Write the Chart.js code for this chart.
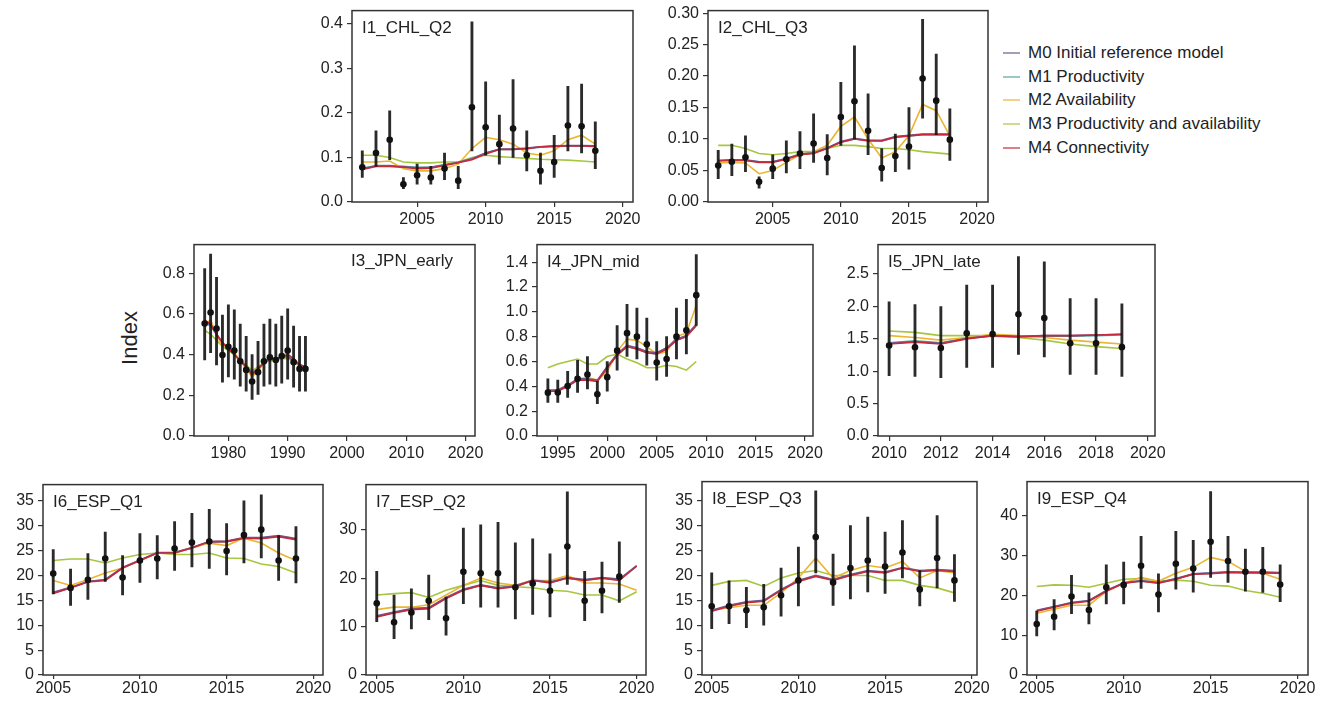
<!DOCTYPE html>
<html lang="en">
<head>
<meta charset="UTF-8" />
<title>Index fits by model</title>
<style>
  html, body { margin: 0; padding: 0; background: #fff; }
  body { width: 1332px; height: 704px; position: relative; overflow: hidden;
         font-family: "Liberation Sans", Arial, sans-serif; color: #222; }
  canvas { position: absolute; }
  #legend { position: absolute; left: 1003px; top: 41px; }
  .item { height: 23.8px; display: flex; align-items: center; font-size: 17px; white-space: nowrap; }
  .swatch { display: inline-block; width: 17px; height: 2px; margin-right: 8px; }
  #ylab { position: absolute; left: 130px; top: 338px; font-size: 22px;
          transform: translate(-50%, -50%) rotate(-90deg); }
</style>
</head>
<body>
<div id="ylab">Index</div>
<div id="legend"></div>
<script src="https://cdn.jsdelivr.net/npm/chart.js"></script>
<script>
  // model names and colours
  const modelNames = ['M0 Initial reference model', 'M1 Productivity', 'M2 Availability',
    'M3 Productivity and availability', 'M4 Connectivity'];
  const modelColors = ['#6b5a8e', '#4fa7a0', '#eab532', '#a6c640', '#c8283c'];

  // I1_CHL_Q2
  const i1Years = [2001, 2002, 2003, 2004, 2005, 2006, 2007, 2008, 2009, 2010, 2011, 2012, 2013, 2014, 2015, 2016, 2017, 2018];
  const i1Obs = [0.078, 0.11, 0.14, 0.04, 0.06, 0.055, 0.075, 0.048, 0.213, 0.168, 0.13, 0.165, 0.105, 0.07, 0.09, 0.172, 0.17, 0.115];
  const i1Lo = [0.055, 0.08, 0.095, 0.03, 0.04, 0.04, 0.05, 0.03, 0.115, 0.105, 0.085, 0.1, 0.07, 0.04, 0.055, 0.115, 0.11, 0.075];
  const i1Hi = [0.115, 0.16, 0.205, 0.055, 0.085, 0.08, 0.11, 0.08, 0.405, 0.27, 0.195, 0.275, 0.16, 0.11, 0.15, 0.26, 0.265, 0.18];
  const i1M0 = [0.075, 0.081, 0.081, 0.079, 0.077, 0.078, 0.083, 0.089, 0.097, 0.11, 0.119, 0.119, 0.121, 0.124, 0.126, 0.127, 0.127, 0.126];
  const i1M1 = [0.076, 0.082, 0.082, 0.08, 0.078, 0.078, 0.084, 0.089, 0.098, 0.11, 0.118, 0.118, 0.12, 0.123, 0.125, 0.126, 0.126, 0.125];
  const i1M2 = [0.09, 0.09, 0.092, 0.075, 0.07, 0.07, 0.075, 0.085, 0.12, 0.145, 0.14, 0.13, 0.11, 0.105, 0.115, 0.14, 0.15, 0.13];
  const i1M3 = [0.105, 0.105, 0.1, 0.09, 0.088, 0.088, 0.09, 0.09, 0.1, 0.105, 0.102, 0.1, 0.098, 0.096, 0.095, 0.094, 0.092, 0.09];
  const i1M4 = [0.073, 0.08, 0.08, 0.078, 0.075, 0.076, 0.082, 0.088, 0.095, 0.108, 0.118, 0.118, 0.12, 0.124, 0.125, 0.126, 0.126, 0.125];
  const i1XTicks = [2005, 2010, 2015, 2020];
  const i1YTicks = [0, 0.1, 0.2, 0.3, 0.4];

  // I2_CHL_Q3
  const i2Years = i1Years;
  const i2Obs = [0.058, 0.064, 0.071, 0.032, 0.053, 0.068, 0.077, 0.093, 0.07, 0.135, 0.16, 0.113, 0.054, 0.073, 0.088, 0.196, 0.161, 0.099];
  const i2Lo = [0.037, 0.042, 0.048, 0.022, 0.037, 0.046, 0.053, 0.063, 0.043, 0.09, 0.1, 0.075, 0.033, 0.048, 0.052, 0.133, 0.107, 0.066];
  const i2Hi = [0.082, 0.092, 0.105, 0.04, 0.075, 0.097, 0.112, 0.14, 0.107, 0.19, 0.248, 0.172, 0.085, 0.108, 0.15, 0.29, 0.235, 0.148];
  const i2M0 = [0.066, 0.067, 0.067, 0.064, 0.064, 0.069, 0.076, 0.078, 0.086, 0.096, 0.101, 0.098, 0.098, 0.104, 0.106, 0.108, 0.108, 0.108];
  const i2M1 = [0.066, 0.067, 0.066, 0.064, 0.064, 0.069, 0.075, 0.078, 0.086, 0.095, 0.1, 0.098, 0.097, 0.103, 0.105, 0.107, 0.107, 0.107];
  const i2M2 = [0.062, 0.063, 0.062, 0.045, 0.05, 0.063, 0.075, 0.08, 0.09, 0.12, 0.135, 0.1, 0.07, 0.08, 0.105, 0.155, 0.145, 0.105];
  const i2M3 = [0.09, 0.09, 0.085, 0.077, 0.075, 0.077, 0.08, 0.08, 0.085, 0.09, 0.09, 0.088, 0.085, 0.085, 0.083, 0.08, 0.078, 0.076];
  const i2M4 = [0.065, 0.066, 0.066, 0.063, 0.063, 0.068, 0.075, 0.077, 0.085, 0.095, 0.1, 0.097, 0.097, 0.103, 0.105, 0.107, 0.107, 0.107];
  const i2XTicks = [2005, 2010, 2015, 2020];
  const i2YTicks = [0, 0.05, 0.1, 0.15, 0.2, 0.25, 0.3];

  // I3_JPN_early
  const i3Years = [1976, 1977, 1978, 1979, 1980, 1981, 1982, 1983, 1984, 1985, 1986, 1987, 1988, 1989, 1990, 1991, 1992, 1993];
  const i3Obs = [0.553, 0.607, 0.528, 0.398, 0.439, 0.42, 0.367, 0.325, 0.268, 0.314, 0.367, 0.387, 0.374, 0.393, 0.42, 0.363, 0.33, 0.33];
  const i3Lo = [0.374, 0.41, 0.35, 0.265, 0.29, 0.28, 0.245, 0.22, 0.18, 0.205, 0.245, 0.255, 0.245, 0.26, 0.28, 0.24, 0.22, 0.22];
  const i3Hi = [0.823, 0.895, 0.78, 0.595, 0.645, 0.62, 0.55, 0.49, 0.4, 0.465, 0.55, 0.575, 0.55, 0.59, 0.625, 0.54, 0.49, 0.49];
  const i3M0 = [0.56, 0.55, 0.5, 0.46, 0.43, 0.4, 0.37, 0.34, 0.31, 0.33, 0.36, 0.38, 0.38, 0.39, 0.39, 0.37, 0.35, 0.34];
  const i3M1 = [0.56, 0.54, 0.5, 0.45, 0.43, 0.4, 0.37, 0.34, 0.31, 0.33, 0.36, 0.38, 0.38, 0.39, 0.39, 0.37, 0.35, 0.34];
  const i3M2 = [0.55, 0.57, 0.5, 0.44, 0.43, 0.41, 0.37, 0.33, 0.29, 0.32, 0.36, 0.38, 0.38, 0.39, 0.41, 0.37, 0.34, 0.33];
  const i3M3 = [0.52, 0.5, 0.47, 0.44, 0.42, 0.4, 0.37, 0.35, 0.32, 0.34, 0.36, 0.37, 0.37, 0.38, 0.38, 0.37, 0.35, 0.34];
  const i3M4 = [0.57, 0.55, 0.5, 0.46, 0.43, 0.4, 0.37, 0.34, 0.3, 0.33, 0.36, 0.38, 0.38, 0.39, 0.4, 0.38, 0.35, 0.34];
  const i3XTicks = [1980, 1990, 2000, 2010, 2020];
  const i3YTicks = [0, 0.2, 0.4, 0.6, 0.8];

  // I4_JPN_mid
  const i4Years = [1994, 1995, 1996, 1997, 1998, 1999, 2000, 2001, 2002, 2003, 2004, 2005, 2006, 2007, 2008, 2009];
  const i4Obs = [0.349, 0.35, 0.402, 0.46, 0.495, 0.336, 0.474, 0.687, 0.828, 0.8, 0.738, 0.591, 0.62, 0.8, 0.852, 1.134];
  const i4Lo = [0.27, 0.27, 0.31, 0.35, 0.38, 0.26, 0.36, 0.53, 0.64, 0.62, 0.57, 0.45, 0.48, 0.62, 0.66, 0.89];
  const i4Hi = [0.46, 0.45, 0.52, 0.61, 0.64, 0.44, 0.6, 0.89, 1.06, 1.03, 0.95, 0.76, 0.8, 1.03, 1.1, 1.46];
  const i4M0 = [0.37, 0.37, 0.41, 0.46, 0.46, 0.45, 0.56, 0.66, 0.73, 0.71, 0.68, 0.67, 0.71, 0.78, 0.81, 0.9];
  const i4M1 = [0.36, 0.37, 0.4, 0.45, 0.46, 0.44, 0.55, 0.65, 0.72, 0.7, 0.67, 0.66, 0.7, 0.77, 0.8, 0.89];
  const i4M2 = [0.36, 0.36, 0.4, 0.46, 0.47, 0.45, 0.52, 0.68, 0.78, 0.77, 0.72, 0.66, 0.68, 0.8, 0.83, 1.05];
  const i4M3 = [0.55, 0.58, 0.6, 0.62, 0.58, 0.58, 0.64, 0.66, 0.62, 0.59, 0.55, 0.55, 0.57, 0.56, 0.53, 0.6];
  const i4M4 = [0.36, 0.36, 0.4, 0.45, 0.45, 0.44, 0.55, 0.65, 0.72, 0.7, 0.67, 0.66, 0.7, 0.77, 0.8, 0.89];
  const i4XTicks = [1995, 2000, 2005, 2010, 2015, 2020];
  const i4YTicks = [0, 0.2, 0.4, 0.6, 0.8, 1.0, 1.2, 1.4];

  // I5_JPN_late
  const i5Years = [2010, 2011, 2012, 2013, 2014, 2015, 2016, 2017, 2018, 2019];
  const i5Obs = [1.397, 1.37, 1.357, 1.585, 1.575, 1.88, 1.82, 1.433, 1.433, 1.372];
  const i5Lo = [0.93, 0.92, 0.9, 1.06, 1.06, 1.26, 1.22, 0.95, 0.95, 0.92];
  const i5Hi = [2.07, 2.03, 2.0, 2.33, 2.33, 2.77, 2.69, 2.12, 2.12, 2.04];
  const i5M0 = [1.43, 1.46, 1.43, 1.51, 1.55, 1.54, 1.55, 1.55, 1.56, 1.57];
  const i5M1 = [1.44, 1.47, 1.44, 1.51, 1.54, 1.53, 1.54, 1.54, 1.55, 1.56];
  const i5M2 = [1.55, 1.52, 1.48, 1.52, 1.57, 1.55, 1.52, 1.48, 1.45, 1.42];
  const i5M3 = [1.62, 1.6, 1.55, 1.55, 1.55, 1.52, 1.48, 1.42, 1.38, 1.35];
  const i5M4 = [1.42, 1.45, 1.42, 1.5, 1.55, 1.53, 1.55, 1.55, 1.56, 1.57];
  const i5XTicks = [2010, 2012, 2014, 2016, 2018, 2020];
  const i5YTicks = [0, 0.5, 1.0, 1.5, 2.0, 2.5];

  // I6_ESP_Q1
  const i6Years = [2005, 2006, 2007, 2008, 2009, 2010, 2011, 2012, 2013, 2014, 2015, 2016, 2017, 2018, 2019];
  const i6Obs = [20.4, 17.5, 19.1, 23.4, 19.6, 23, 23.4, 25.4, 26.6, 26.8, 24.9, 28.1, 29.2, 23, 23.4];
  const i6Lo = [16.3, 14, 15.2, 18.8, 16.1, 18.6, 19.3, 21, 21.7, 21.4, 20.1, 22.5, 23.5, 19, 18.5];
  const i6Hi = [25.2, 21.3, 24.4, 28.7, 24, 28.4, 28, 30.8, 32.5, 33.3, 30.4, 35, 36.2, 28, 29.8];
  const i6M0 = [16.6, 17.6, 18.8, 19.2, 21.6, 23.1, 24.6, 24.6, 25.6, 26.8, 26.9, 27.6, 27.6, 28, 27.4];
  const i6M1 = [16.5, 17.6, 18.8, 19.1, 21.5, 23, 24.5, 24.6, 25.5, 26.7, 26.8, 27.5, 27.5, 27.9, 27.3];
  const i6M2 = [19, 18, 19.2, 20.5, 21.5, 23, 24.5, 24.5, 25.5, 26.5, 26, 27.5, 26.5, 24.5, 23];
  const i6M3 = [23, 23.3, 23.3, 22.5, 23.5, 24.2, 24.5, 24.2, 24.2, 24.5, 23.5, 23.4, 22.3, 21.8, 20.5];
  const i6M4 = [16.4, 17.5, 18.7, 19, 21.5, 23, 24.5, 24.5, 25.5, 26.8, 26.8, 27.5, 27.4, 27.8, 27.2];
  const i6XTicks = [2005, 2010, 2015, 2020];
  const i6YTicks = [0, 5, 10, 15, 20, 25, 30, 35];

  // I7_ESP_Q2 (fits run one year past the last observation)
  const i7Years = [2005, 2006, 2007, 2008, 2009, 2010, 2011, 2012, 2013, 2014, 2015, 2016, 2017, 2018, 2019];
  const i7FitYears = [2005, 2006, 2007, 2008, 2009, 2010, 2011, 2012, 2013, 2014, 2015, 2016, 2017, 2018, 2019, 2020];
  const i7Obs = [14.8, 10.9, 12.9, 15.3, 11.7, 21.3, 21, 21, 18.1, 18.9, 17.4, 26.5, 15.3, 17.4, 20.3];
  const i7Lo = [11, 7.5, 9.5, 11.4, 8.2, 14.7, 14, 14, 11.6, 12.5, 12, 18.7, 11.2, 12.8, 15];
  const i7Hi = [21.4, 16.5, 17.8, 20.6, 16.1, 30.3, 31, 31.5, 27.3, 28.1, 25, 37.8, 21.4, 23.3, 27.5];
  const i7M0 = [12.2, 13, 13.7, 13.9, 16, 17.7, 18.6, 18, 18.4, 19.6, 19.2, 20.1, 19.7, 20.1, 19.8, 22.6];
  const i7M1 = [12.1, 12.9, 13.6, 13.8, 15.9, 17.6, 18.5, 17.9, 18.3, 19.5, 19.1, 20, 19.6, 20, 19.6, 22.4];
  const i7M2 = [13.5, 14, 14, 14.5, 16.5, 18.5, 20, 19, 18.5, 19.5, 19.5, 20.5, 19, 19, 18.8, 17.5];
  const i7M3 = [16.5, 16.8, 17, 16, 17.5, 18.5, 19.5, 18.5, 18.2, 18, 17.5, 17.3, 16.5, 16.5, 15.3, 17.2];
  const i7M4 = [12, 12.8, 13.5, 13.7, 15.8, 17.5, 18.5, 17.8, 18.2, 19.5, 19, 20, 19.5, 20, 19.5, 22.5];
  const i7XTicks = [2005, 2010, 2015, 2020];
  const i7YTicks = [0, 10, 20, 30];

  // I8_ESP_Q3
  const i8Years = i6Years;
  const i8Obs = [13.8, 13.8, 13, 13.6, 16, 19, 27.7, 18.6, 21.5, 23, 21.8, 24.6, 17.2, 23.5, 19];
  const i8Lo = [9.3, 10.3, 9.5, 10, 11.8, 13.9, 20.5, 14, 15.3, 16.7, 16.4, 19.5, 13.9, 17.5, 14.8];
  const i8Hi = [20.5, 18.9, 17.6, 18.2, 21.5, 25.7, 37, 24.3, 30, 31.7, 28.7, 31, 21, 32, 24.2];
  const i8M0 = [13, 14, 14.7, 15, 17.2, 19, 20, 19.2, 20.2, 21, 20.7, 21.6, 21, 21.2, 21];
  const i8M1 = [12.9, 13.9, 14.6, 14.9, 17.1, 18.9, 19.9, 19.1, 20.1, 20.9, 20.6, 21.5, 20.9, 21.1, 20.9];
  const i8M2 = [13, 13.5, 14, 14, 16.5, 19.5, 23.5, 19.5, 21, 22, 21.5, 22.8, 19.5, 21, 20.5];
  const i8M3 = [18, 18.8, 19, 17.8, 19.5, 20.5, 21, 20, 20, 20, 19, 19, 18, 17.5, 16.5];
  const i8M4 = [12.8, 13.8, 14.5, 14.8, 17, 18.8, 19.8, 19, 20, 20.8, 20.5, 21.5, 20.8, 21, 20.8];
  const i8XTicks = [2005, 2010, 2015, 2020];
  const i8YTicks = [0, 5, 10, 15, 20, 25, 30, 35];

  // I9_ESP_Q4
  const i9Years = i6Years;
  const i9Obs = [12.8, 14.6, 19.7, 16.3, 22, 22.6, 27.4, 20.2, 27.9, 26.7, 33.4, 28.6, 25.9, 25.9, 22.7];
  const i9Lo = [9.8, 11.3, 15.4, 12.8, 17.8, 17.8, 21.7, 15.8, 21.5, 20.8, 24.5, 23.2, 21, 20.7, 18.4];
  const i9Hi = [16, 18.9, 25, 20.6, 27.6, 28.3, 34.8, 25.4, 36, 33.8, 46, 34.8, 31.6, 32, 27.6];
  const i9M0 = [16.2, 17.2, 18.2, 18.7, 21.2, 23.1, 23.7, 23.2, 24.2, 25.4, 25.6, 25.9, 25.8, 25.8, 25.7];
  const i9M1 = [16.1, 17.1, 18.1, 18.6, 21.1, 23, 23.6, 23.1, 24.1, 25.3, 25.5, 25.8, 25.7, 25.7, 25.6];
  const i9M2 = [15.5, 16.5, 17.5, 17.5, 21, 23, 24.5, 23.5, 25.5, 27, 29.5, 28.5, 26, 25.5, 24];
  const i9M3 = [22.2, 22.6, 22.5, 22, 23, 24, 24.2, 23.5, 23.8, 23.5, 22.5, 22.3, 21.2, 20.5, 19.5];
  const i9M4 = [16, 17, 18, 18.5, 21, 23, 23.5, 23, 24, 25.3, 25.4, 25.7, 25.6, 25.6, 25.5];
  const i9XTicks = [2005, 2010, 2015, 2020];
  const i9YTicks = [0, 10, 20, 30, 40];

  // panel placement: box = [left, top, right, bottom] of the plot frame on the page
  const panels = [
    { title: 'I1_CHL_Q2', years: i1Years, fitYears: i1Years, obs: i1Obs, lo: i1Lo, hi: i1Hi,
      fits: [i1M0, i1M1, i1M2, i1M3, i1M4], xTicks: i1XTicks, yTicks: i1YTicks, dec: 1,
      box: [352, 9, 633, 202], xMin: 2000.25, xMax: 2020.75, yMax: 0.43 },
    { title: 'I2_CHL_Q3', years: i2Years, fitYears: i2Years, obs: i2Obs, lo: i2Lo, hi: i2Hi,
      fits: [i2M0, i2M1, i2M2, i2M3, i2M4], xTicks: i2XTicks, yTicks: i2YTicks, dec: 2,
      box: [708, 9, 988, 202], xMin: 2000.25, xMax: 2020.8, yMax: 0.304 },
    { title: 'I3_JPN_early', years: i3Years, fitYears: i3Years, obs: i3Obs, lo: i3Lo, hi: i3Hi,
      fits: [i3M0, i3M1, i3M2, i3M3, i3M4], xTicks: i3XTicks, yTicks: i3YTicks, dec: 1,
      box: [194, 243, 475, 436], xMin: 1974.2, xMax: 2021.6, yMax: 0.941, titleRight: true },
    { title: 'I4_JPN_mid', years: i4Years, fitYears: i4Years, obs: i4Obs, lo: i4Lo, hi: i4Hi,
      fits: [i4M0, i4M1, i4M2, i4M3, i4M4], xTicks: i4XTicks, yTicks: i4YTicks, dec: 1,
      box: [537, 243, 813, 436], xMin: 1992.9, xMax: 2020.8, yMax: 1.541 },
    { title: 'I5_JPN_late', years: i5Years, fitYears: i5Years, obs: i5Obs, lo: i5Lo, hi: i5Hi,
      fits: [i5M0, i5M1, i5M2, i5M3, i5M4], xTicks: i5XTicks, yTicks: i5YTicks, dec: 1,
      box: [878, 243, 1155, 436], xMin: 2009.57, xMax: 2020.28, yMax: 2.955 },
    { title: 'I6_ESP_Q1', years: i6Years, fitYears: i6Years, obs: i6Obs, lo: i6Lo, hi: i6Hi,
      fits: [i6M0, i6M1, i6M2, i6M3, i6M4], xTicks: i6XTicks, yTicks: i6YTicks, dec: 0,
      box: [43, 483, 323, 675], xMin: 2004.41, xMax: 2020.56, yMax: 38.25, low: true },
    { title: 'I7_ESP_Q2', years: i7Years, fitYears: i7FitYears, obs: i7Obs, lo: i7Lo, hi: i7Hi,
      fits: [i7M0, i7M1, i7M2, i7M3, i7M4], xTicks: i7XTicks, yTicks: i7YTicks, dec: 0,
      box: [366, 483, 646, 675], xMin: 2004.38, xMax: 2020.54, yMax: 39.3, low: true },
    { title: 'I8_ESP_Q3', years: i8Years, fitYears: i8Years, obs: i8Obs, lo: i8Lo, hi: i8Hi,
      fits: [i8M0, i8M1, i8M2, i8M3, i8M4], xTicks: i8XTicks, yTicks: i8YTicks, dec: 0,
      box: [702, 480, 977, 675], xMin: 2004.44, xMax: 2020.3, yMax: 38.85, low: true },
    { title: 'I9_ESP_Q4', years: i9Years, fitYears: i9Years, obs: i9Obs, lo: i9Lo, hi: i9Hi,
      fits: [i9M0, i9M1, i9M2, i9M3, i9M4], xTicks: i9XTicks, yTicks: i9YTicks, dec: 0,
      box: [1027, 480, 1308, 675], xMin: 2004.44, xMax: 2020.6, yMax: 48.5, low: true }
  ];

  Chart.defaults.font.family = '"Liberation Sans", Arial, sans-serif';
  Chart.defaults.color = '#222';

  const AX_W = 50;   // y axis width
  const AX_H = 30;   // x axis height
  const PAD_T = 12;
  const PAD_R = 24;

  // frame round the plot area and the panel name inside it
  const framePlugin = {
    id: 'frame',
    afterDraw(chart, args, opts) {
      const { ctx, chartArea: a } = chart;
      ctx.save();
      ctx.strokeStyle = '#333';
      ctx.lineWidth = 1.5;
      ctx.strokeRect(a.left, a.top, a.right - a.left, a.bottom - a.top);
      ctx.fillStyle = '#222';
      ctx.font = '17px "Liberation Sans", Arial, sans-serif';
      ctx.textBaseline = 'middle';
      if (opts.right) {
        ctx.textAlign = 'right';
        ctx.fillText(opts.text, a.right - 22, a.top + 17);
      } else {
        ctx.textAlign = 'left';
        ctx.fillText(opts.text, a.left + 10, a.top + 18);
      }
      ctx.restore();
    }
  };

  function makePanel(p) {
    const [L, T, R, B] = p.box;
    const cv = document.createElement('canvas');
    cv.width = (R - L) + AX_W + PAD_R;
    cv.height = (B - T) + PAD_T + AX_H;
    cv.style.left = (L - AX_W) + 'px';
    cv.style.top = (T - PAD_T) + 'px';
    document.body.appendChild(cv);

    const datasets = [];
    // observed index points
    datasets.push({
      type: 'scatter',
      data: p.years.map((x, i) => ({ x: x, y: p.obs[i] })),
      pointRadius: 3.3,
      backgroundColor: '#111',
      borderWidth: 0,
      order: 0
    });
    // error bars as floating bars
    datasets.push({
      type: 'bar',
      data: p.years.map((x, i) => ({ x: x, y: [p.lo[i], p.hi[i]] })),
      backgroundColor: 'rgba(20,20,20,0.9)',
      barThickness: 2.2,
      order: 1
    });
    // model fits, M4 drawn on top
    const fitOrder = [3, 6, 4, 5, 2];
    p.fits.forEach((vals, m) => {
      datasets.push({
        type: 'line',
        data: p.fitYears.map((x, i) => ({ x: x, y: vals[i] })),
        borderColor: modelColors[m],
        borderWidth: 1.6,
        pointRadius: 0,
        tension: 0,
        order: fitOrder[m]
      });
    });

    const fontSize = 16;
    new Chart(cv, {
      type: 'line',
      data: { datasets: datasets },
      plugins: [framePlugin],
      options: {
        responsive: false,
        animation: false,
        events: [],
        layout: { padding: { left: 0, top: PAD_T, right: PAD_R, bottom: 0 } },
        plugins: {
          legend: { display: false },
          tooltip: { enabled: false },
          frame: { text: p.title, right: !!p.titleRight }
        },
        scales: {
          x: {
            type: 'linear',
            min: p.xMin,
            max: p.xMax,
            offset: false,
            afterBuildTicks: s => { s.ticks = p.xTicks.map(v => ({ value: v })); },
            afterFit: s => { s.height = AX_H; },
            border: { display: false },
            grid: { offset: false, drawOnChartArea: false, drawTicks: true,
                    tickLength: p.low ? 4 : 5, color: '#333', lineWidth: 1.2 },
            ticks: { font: { size: fontSize }, padding: p.low ? 0 : 3, maxRotation: 0,
                     autoSkip: false, callback: v => String(v) }
          },
          y: {
            type: 'linear',
            min: 0,
            max: p.yMax,
            afterBuildTicks: s => { s.ticks = p.yTicks.map(v => ({ value: v })); },
            afterFit: s => { s.width = AX_W; },
            border: { display: false },
            grid: { drawOnChartArea: false, drawTicks: true, tickLength: 5,
                    color: '#333', lineWidth: 1.2 },
            ticks: { font: { size: fontSize }, padding: 4, autoSkip: false,
                     callback: v => v.toFixed(p.dec) }
          }
        }
      }
    });
  }

  panels.forEach(makePanel);

  // legend
  const legend = document.getElementById('legend');
  modelNames.forEach((name, m) => {
    const row = document.createElement('div');
    row.className = 'item';
    const sw = document.createElement('span');
    sw.className = 'swatch';
    sw.style.background = modelColors[m];
    sw.style.opacity = 0.6;
    row.appendChild(sw);
    row.appendChild(document.createTextNode(name));
    legend.appendChild(row);
  });
</script>
</body>
</html>
